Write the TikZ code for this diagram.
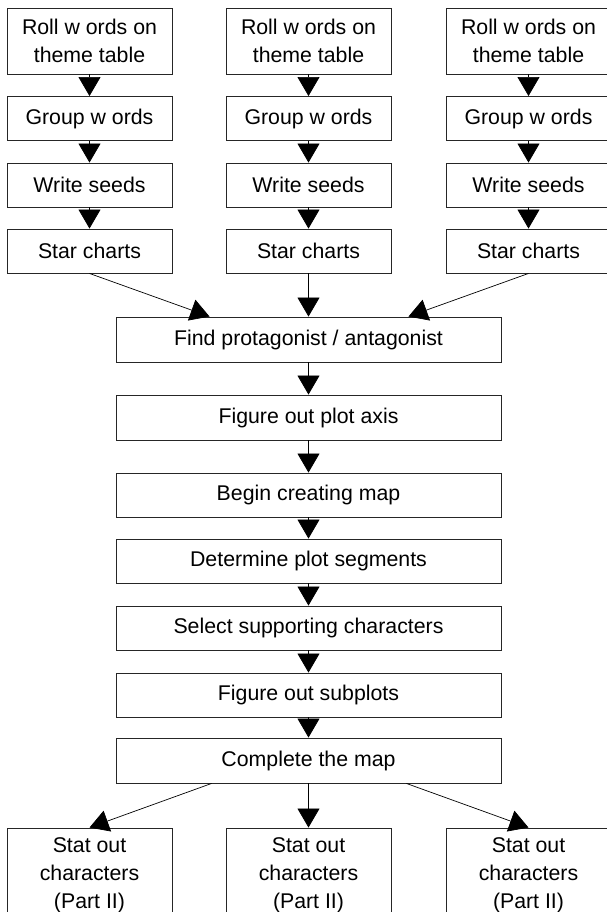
\documentclass[tikz,border=0pt]{standalone}
\usepackage{fontspec}
\setmainfont{Liberation Sans}
\usetikzlibrary{arrows.meta}
\tikzset{
  box/.style={draw=black!85, line width=0.9pt, minimum width=165pt, minimum height=44pt,
    inner sep=0pt, align=center, font=\fontsize{21.3}{28}\selectfont},
  wide/.style={box, minimum width=385pt},
  arr/.style={draw=black, line width=0.7pt, -{Triangle[width=22pt,length=19pt]}}
}
\begin{document}
\begin{tikzpicture}[x=1pt,y=-1pt]
\useasboundingbox (0,0) rectangle (606,912);
% three top columns
\foreach \c/\x in {a/89.5,b/308.5,c/528.5}{
  \node[box, minimum height=66pt] (r\c) at (\x,41) {Roll w ords on\\theme table};
  \node[box] (g\c) at (\x,118.5) {Group w ords};
  \node[box] (w\c) at (\x,185) {Write seeds};
  \node[box] (s\c) at (\x,251) {Star charts};
  \draw[arr] (r\c) -- (g\c);
  \draw[arr] (g\c) -- (w\c);
  \draw[arr] (w\c) -- (s\c);
}
% main chain
\node[wide, minimum height=45pt] (find) at (308.5,339.5) {Find protagonist / antagonist};
\node[wide, minimum height=45pt] (axis) at (308.5,417.5) {Figure out plot axis};
\node[wide] (map) at (308.5,495) {Begin creating map};
\node[wide] (seg) at (308.5,561) {Determine plot segments};
\node[wide] (sup) at (308.5,628) {Select supporting characters};
\node[wide] (sub) at (308.5,695) {Figure out subplots};
\node[wide, minimum height=45pt] (comp) at (308.5,760.5) {Complete the map};
% bottom boxes
\node[box, minimum height=95pt] (ba) at (89.5,875.5) {Stat out\\characters\\(Part II)};
\node[box, minimum height=95pt] (bb) at (308.5,875.5) {Stat out\\characters\\(Part II)};
\node[box, minimum height=95pt] (bc) at (528.5,875.5) {Stat out\\characters\\(Part II)};
% connectors
\draw[arr] (sa.south) -- ([xshift=94pt]find.north west);
\draw[arr] (sb.south) -- (find.north);
\draw[arr] (sc.south) -- ([xshift=-93pt]find.north east);
\draw[arr] (find) -- (axis);
\draw[arr] (axis) -- (map);
\draw[arr] (map) -- (seg);
\draw[arr] (seg) -- (sup);
\draw[arr] (sup) -- (sub);
\draw[arr] (sub) -- (comp);
\draw[arr] ([xshift=96pt]comp.south west) -- (ba.north);
\draw[arr] (comp.south) -- (bb.north);
\draw[arr] ([xshift=-95pt]comp.south east) -- (bc.north);
\end{tikzpicture}
\end{document}
